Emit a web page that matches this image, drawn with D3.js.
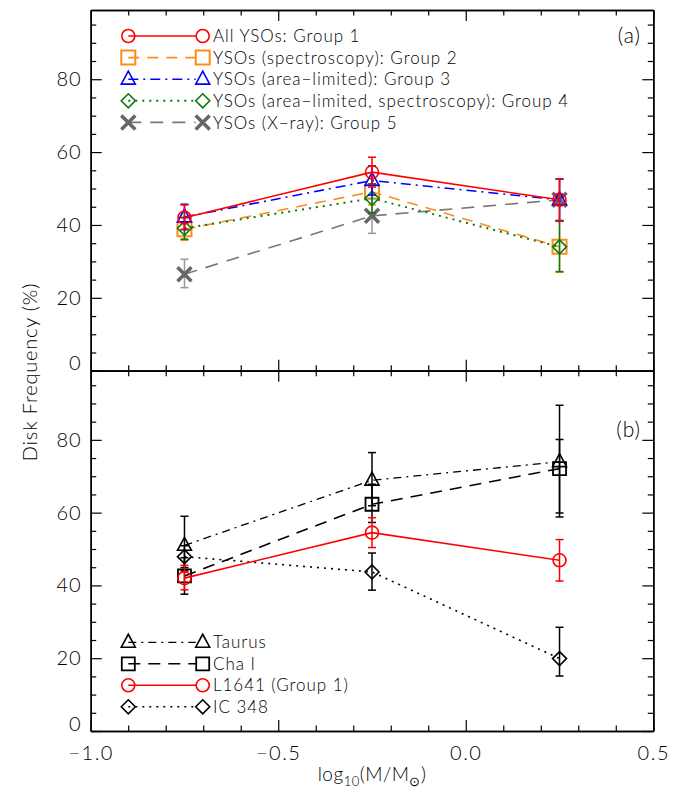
<!DOCTYPE html>
<html>
<head>
<meta charset="utf-8">
<script src="https://cdn.jsdelivr.net/npm/d3@7"></script>
<style>
  body { margin: 0; background: #fff; }
  text { font-family: Lato, "Open Sans", "DejaVu Sans", sans-serif; font-weight: 300; fill: #000; }
</style>
</head>
<body>
<div id="chart"></div>
<script>
// mass bins, log10(M/Msun)
const massBins = [-0.75, -0.25, 0.25];

// panel (a): L1641 subsamples
const g1Freq = [42.0, 54.5, 46.9], g1Lo = [3.2, 4.1, 5.7], g1Hi = [3.5, 4.1, 5.7];
const g2Freq = [38.8, 49.1, 34.0], g2Lo = [3.0, 3.6, 7.0], g2Hi = [3.0, 3.6, 7.0];
const g3Freq = [42.2, 52.2, 46.9], g3Lo = [3.5, 4.0, 5.7], g3Hi = [3.5, 4.0, 5.7];
const g4Freq = [39.1, 47.3, 34.0], g4Lo = [3.0, 4.0, 6.8], g4Hi = [3.0, 4.0, 7.1];
const g5Freq = [26.5, 42.5, 46.9], g5Lo = [3.7, 4.8, 5.7], g5Hi = [4.1, 4.8, 5.7];
const groupLabels = [
  "All YSOs: Group 1",
  "YSOs (spectroscopy): Group 2",
  "YSOs (area\u2212limited): Group 3",
  "YSOs (area\u2212limited, spectroscopy): Group 4",
  "YSOs (X\u2212ray): Group 5"
];

// panel (b): other regions vs L1641
const taurusFreq = [51.0, 68.9, 74.0], taurusLo = [7.0, 7.0, 14.1], taurusHi = [8.0, 7.6, 6.1];
const chaFreq = [42.6, 62.3, 72.1], chaLo = [5.0, 5.0, 13.3], chaHi = [5.0, 5.5, 17.4];
const ic348Freq = [47.9, 43.7, 19.9], ic348Lo = [3.0, 5.0, 4.8], ic348Hi = [3.0, 5.2, 8.6];
const regionLabels = ["Taurus", "Cha I", "L1641 (Group 1)", "IC 348"];

// ticks
const xMajor = [-1.0, -0.5, 0.0, 0.5];
const xMinor = [-0.9, -0.8, -0.7, -0.6, -0.4, -0.3, -0.2, -0.1, 0.1, 0.2, 0.3, 0.4];
const yMajor = [0, 20, 40, 60, 80];
const yMinor = [5, 10, 15, 25, 30, 35, 45, 50, 55, 65, 70, 75, 85, 90, 95];

const W = 688, H = 800;
const x0 = 90.7, x1 = 653.3, yTop = 10, yMid = 370.7, yBot = 731;

const svg = d3.select("#chart").append("svg")
  .attr("width", W).attr("height", H);

const x = d3.scaleLinear().domain([-1, 0.5]).range([x0, x1]);
const yA = d3.scaleLinear().domain([0, 99]).range([yMid, yTop]);
const yB = d3.scaleLinear().domain([0, 99]).range([yBot, yMid]);

function fmtX(d) {
  return (d < 0 ? "\u2212" : "") + Math.abs(d).toFixed(1);
}

function drawFrame(y, labelX) {
  const g = svg.append("g");
  const bottom = y.range()[0], top = y.range()[1];

  const left = g.append("g").attr("transform", `translate(${x0},0)`)
    .call(d3.axisLeft(y).tickValues(yMajor).tickSize(-11).tickSizeOuter(0).tickPadding(9));
  left.selectAll("text").style("font-size", "20px").style("letter-spacing", "1px")
    .attr("dy", d => d === 0 ? "-0.05em" : "0.32em");
  g.append("g").attr("transform", `translate(${x0},0)`)
    .call(d3.axisLeft(y).tickValues(yMinor).tickSize(-5.5).tickSizeOuter(0).tickFormat(""));

  g.append("g").attr("transform", `translate(${x1},0)`)
    .call(d3.axisRight(y).tickValues(yMajor).tickSize(-11).tickSizeOuter(0).tickFormat(""));
  g.append("g").attr("transform", `translate(${x1},0)`)
    .call(d3.axisRight(y).tickValues(yMinor).tickSize(-5.5).tickSizeOuter(0).tickFormat(""));

  const bot = g.append("g").attr("transform", `translate(0,${bottom})`)
    .call(d3.axisBottom(x).tickValues(xMajor).tickSize(-11).tickSizeOuter(0).tickPadding(15)
      .tickFormat(labelX ? fmtX : ""));
  bot.selectAll("text").style("font-size", "20px").style("letter-spacing", "1.5px");
  g.append("g").attr("transform", `translate(0,${bottom})`)
    .call(d3.axisBottom(x).tickValues(xMinor).tickSize(-5.5).tickSizeOuter(0).tickFormat(""));

  g.append("g").attr("transform", `translate(0,${top})`)
    .call(d3.axisTop(x).tickValues(xMajor).tickSize(-11).tickSizeOuter(0).tickFormat(""));
  g.append("g").attr("transform", `translate(0,${top})`)
    .call(d3.axisTop(x).tickValues(xMinor).tickSize(-5.5).tickSizeOuter(0).tickFormat(""));

  g.selectAll("path.domain").attr("stroke", "#000").attr("stroke-width", 1.5);
  g.selectAll(".tick line").attr("stroke", "#000").attr("stroke-width", 1.2);
  g.selectAll(".tick text").attr("fill", "#000");
}

// marker shapes, centred on 0,0
function shape(type, r) {
  if (type === "circle") return d3.symbol().type(d3.symbolCircle).size(Math.PI * r * r)();
  if (type === "square") return `M${-r},${-r}H${r}V${r}H${-r}Z`;
  if (type === "triangle") return `M0,${-r * 1.15}L${r},${r * 0.7}L${-r},${r * 0.7}Z`;
  if (type === "diamond") return `M0,${-r}L${r},0L0,${r}L${-r},0Z`;
  if (type === "x") return `M${-r},${-r}L${r},${r}M${-r},${r}L${r},${-r}`;
}

function drawSeries(y, s) {
  const g = svg.append("g");
  const pts = massBins.map((m, i) => ({ m, v: s.freq[i], lo: s.lo[i], hi: s.hi[i] }));

  // error bars
  const eb = g.selectAll(".eb").data(pts).enter().append("g")
    .attr("stroke", s.errColor || s.color).attr("stroke-width", 1.5).attr("fill", "none");
  eb.append("line")
    .attr("x1", d => x(d.m)).attr("x2", d => x(d.m))
    .attr("y1", d => y(d.v - d.lo)).attr("y2", d => y(d.v + d.hi));
  eb.append("line")
    .attr("x1", d => x(d.m) - 4).attr("x2", d => x(d.m) + 4)
    .attr("y1", d => y(d.v + d.hi)).attr("y2", d => y(d.v + d.hi));
  eb.append("line")
    .attr("x1", d => x(d.m) - 4).attr("x2", d => x(d.m) + 4)
    .attr("y1", d => y(d.v - d.lo)).attr("y2", d => y(d.v - d.lo));

  // connecting line
  g.append("path").datum(pts)
    .attr("fill", "none").attr("stroke", s.lineColor || s.color)
    .attr("stroke-width", s.lw || 1.6)
    .attr("stroke-dasharray", s.dash)
    .attr("d", d3.line().x(d => x(d.m)).y(d => y(d.v)));

  // symbols
  g.selectAll(".sym").data(pts).enter().append("path")
    .attr("transform", d => `translate(${x(d.m)},${y(d.v)})`)
    .attr("d", shape(s.sym, s.r))
    .attr("fill", "none").attr("stroke", s.symColor || s.color)
    .attr("stroke-width", s.sw || 1.6);
}

function drawLegend(list, yStart, step) {
  const lx1 = 128.3, lx2 = 202.7, tx = 213;
  list.forEach((s, i) => {
    const yy = yStart + i * step;
    const g = svg.append("g");
    g.append("line").attr("x1", lx1).attr("x2", lx2 - s.r).attr("y1", yy).attr("y2", yy)
      .attr("stroke", s.lineColor || s.color).attr("stroke-width", s.lw || 1.6)
      .attr("stroke-dasharray", s.dash);
    [lx1, lx2].forEach(px => {
      g.append("path").attr("transform", `translate(${px},${yy})`)
        .attr("d", shape(s.sym, s.r)).attr("fill", "none")
        .attr("stroke", s.symColor || s.color).attr("stroke-width", s.sw || 1.6);
    });
    g.append("text").attr("x", tx).attr("y", yy).attr("dy", "0.36em")
      .style("font-size", "17px").style("letter-spacing", "0.95px").text(s.label);
  });
}

// ---- panel (a)
drawFrame(yA, false);
const seriesA = [
  { label: groupLabels[1], freq: g2Freq, lo: g2Lo, hi: g2Hi, color: "#ff8c1a", dash: "11,8", sym: "square", r: 7, sw: 2 },
  { label: groupLabels[4], freq: g5Freq, lo: g5Lo, hi: g5Hi, color: "#777", errColor: "#999", symColor: "#666", dash: "13,9", sym: "x", r: 7, sw: 3.5 },
  { label: groupLabels[3], freq: g4Freq, lo: g4Lo, hi: g4Hi, color: "#0a7a0a", dash: "2,5", lw: 2, sym: "diamond", r: 7 },
  { label: groupLabels[2], freq: g3Freq, lo: g3Lo, hi: g3Hi, color: "#0000ff", dash: "10,5,2,5", sym: "triangle", r: 7 },
  { label: groupLabels[0], freq: g1Freq, lo: g1Lo, hi: g1Hi, color: "#ff0000", dash: null, sym: "circle", r: 6.5 }
];
seriesA.forEach(s => drawSeries(yA, s));
drawLegend([seriesA[4], seriesA[0], seriesA[3], seriesA[2], seriesA[1]], 36, 21.6);
svg.append("text").attr("x", 641).attr("y", 43).attr("text-anchor", "end")
  .style("font-size", "21px").style("letter-spacing", "1px").text("(a)");

// ---- panel (b)
drawFrame(yB, true);
const seriesB = [
  { label: regionLabels[3], freq: ic348Freq, lo: ic348Lo, hi: ic348Hi, color: "#000", dash: "2,5", sym: "diamond", r: 7 },
  { label: regionLabels[1], freq: chaFreq, lo: chaLo, hi: chaHi, color: "#000", dash: "12,8", sym: "square", r: 6.5, sw: 1.8 },
  { label: regionLabels[0], freq: taurusFreq, lo: taurusLo, hi: taurusHi, color: "#000", dash: "8,5,2,5", lw: 1.3, sym: "triangle", r: 7 },
  { label: regionLabels[2], freq: g1Freq, lo: g1Lo, hi: g1Hi, color: "#ff0000", dash: null, sym: "circle", r: 6.5 }
];
seriesB.forEach(s => drawSeries(yB, s));
drawLegend([seriesB[2], seriesB[1], seriesB[3], seriesB[0]], 642.3, 21.5);
svg.append("text").attr("x", 641).attr("y", 437).attr("text-anchor", "end")
  .style("font-size", "21px").style("letter-spacing", "1px").text("(b)");

// ---- axis titles
svg.append("text")
  .attr("transform", "translate(37,372) rotate(-90)")
  .attr("text-anchor", "middle").style("font-size", "20px").style("letter-spacing", "0.8px")
  .text("Disk Frequency (%)");

const xt = svg.append("text").attr("x", 372).attr("y", 781)
  .attr("text-anchor", "middle").style("font-size", "19px").style("letter-spacing", "0.5px");
xt.append("tspan").text("log");
xt.append("tspan").attr("dy", 5).style("font-size", "13px").text("10");
xt.append("tspan").attr("dy", -5).text("(M/M");
xt.append("tspan").attr("dy", 5).style("font-size", "13px").text("\u2299");
xt.append("tspan").attr("dy", -5).text(")");
</script>
</body>
</html>
